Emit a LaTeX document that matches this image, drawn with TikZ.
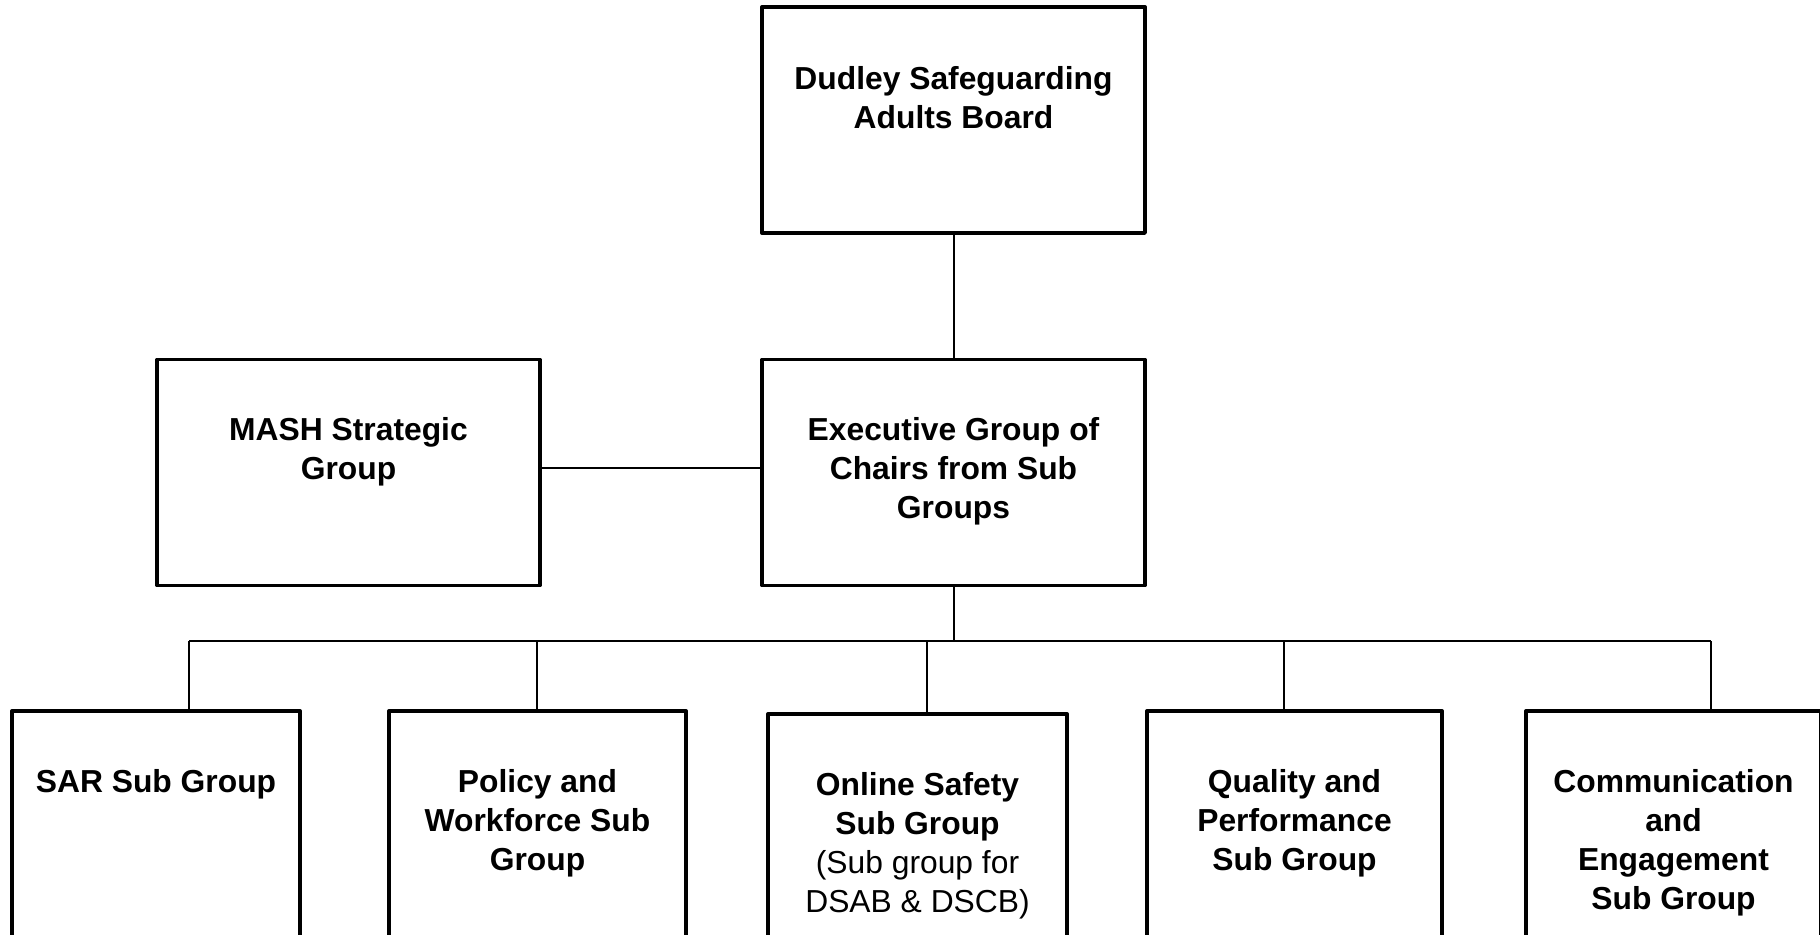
\documentclass[tikz,border=0pt]{standalone}
\usepackage{fontspec}
\setmainfont{Liberation Sans}
\usepackage{tikz}
\usetikzlibrary{calc}

\tikzset{
  box/.style={draw, line width=1.7pt, line join=round, minimum height=113pt, inner sep=0pt},
  lbl/.style={anchor=north, align=center, inner sep=0pt, font=\fontsize{15.9pt}{19.5pt}\selectfont\bfseries},
  link/.style={line width=1pt}
}

\begin{document}
\begin{tikzpicture}[x=0.5pt,y=-0.5pt]

\useasboundingbox (0,0) rectangle (1820,934);
\clip (0,0) rectangle (1820,934);

\node[box, minimum width=191.5pt] (board) at (953.5,120) {};
\node[box, minimum width=191.5pt] (exec) at (953.5,472.5) {};
\node[box, minimum width=191.5pt] (mash) at (348.5,472.5) {};

\node[box, minimum width=144pt] (b1) at (156,824) {};
\node[box, minimum width=148.5pt] (b2) at (537.5,824) {};
\node[box, minimum width=149.5pt] (b3) at (917.5,827) {};
\node[box, minimum width=147.5pt] (b4) at (1294.5,824) {};
\node[box, minimum width=147.5pt] (b5) at (1673.5,824) {};

\node[lbl] (board-t) at ([yshift=-30.5pt]board.north) {Dudley Safeguarding\\Adults Board};
\node[lbl] (exec-t) at ([yshift=-29.5pt]exec.north) {Executive Group of\\Chairs from Sub\\Groups};
\node[lbl] (mash-t) at ([yshift=-29.5pt]mash.north) {MASH Strategic\\Group};

\node[lbl] (b1-t) at ([yshift=-30pt]b1.north) {SAR Sub Group};
\node[lbl] (b2-t) at ([yshift=-30pt]b2.north) {Policy and\\Workforce Sub\\Group};
\node[lbl] (b3-t) at ([yshift=-30pt]b3.north) {Online Safety\\Sub Group\\{\mdseries(Sub group for}\\{\mdseries DSAB \& DSCB)}};
\node[lbl] (b4-t) at ([yshift=-30pt]b4.north) {Quality and\\Performance\\Sub Group};
\node[lbl] (b5-t) at ([yshift=-30pt]b5.north) {Communication\\and\\Engagement\\Sub Group};

\coordinate (bus) at (953.5,641);
\coordinate (j1) at (189,641);
\coordinate (j2) at (537,641);
\coordinate (j3) at (927,641);
\coordinate (j4) at (1284,641);
\coordinate (j5) at (1711,641);

\draw[link] (board) -- (exec);
\draw[link] ([yshift=2.5pt]mash.east) -- ([yshift=2.5pt]exec.west);
\draw[link] (exec) -- (bus);
\draw[link] (j1) -- (j5);
\foreach \i in {1,...,5}
  \draw[link] (j\i) -- (j\i |- b\i.north);

\end{tikzpicture}
\end{document}
